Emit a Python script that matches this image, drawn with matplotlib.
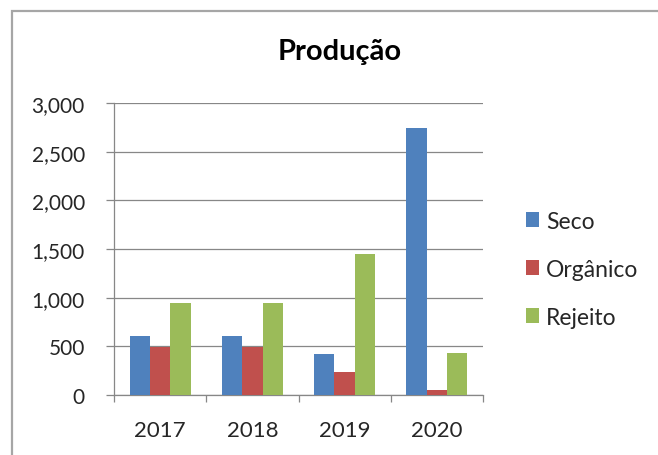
import numpy as np
import matplotlib
matplotlib.use('Agg')
import matplotlib.pyplot as plt
from matplotlib.patches import Rectangle
from matplotlib.ticker import FuncFormatter

plt.rcParams['font.family'] = ['Lato', 'DejaVu Sans']

years = ['2017', '2018', '2019', '2020']
seco = [605, 605, 420, 2740]
organico = [490, 490, 235, 50]
rejeito = [950, 950, 1445, 435]
series_names = ['Seco', 'Orgânico', 'Rejeito']
colors = ['#4F81BD', '#C0504D', '#9BBB59']

grid_col = '#878787'
text_col = '#262626'

fig = plt.figure(figsize=(6.58, 4.56), dpi=100)
fig.patch.set_facecolor('white')

# chart area border (runs off the right and bottom edges)
fig.patches.append(Rectangle((12 / 658, -0.1), 1.2, 1 - 12 / 456 + 0.1,
                             transform=fig.transFigure, fill=False,
                             edgecolor='#A6A6A6', linewidth=1.6))

ax = fig.add_axes([114 / 658, 1 - 396 / 456, (483 - 114) / 658, (396 - 104) / 456])

x = np.arange(len(years))
w = 0.22
for i, (vals, name) in enumerate(zip([seco, organico, rejeito], series_names)):
    ax.bar(x + (i - 1) * w, vals, width=w, color=colors[i], label=name, zorder=3)

ax.set_xlim(-0.5, len(years) - 0.5)
ax.set_ylim(0, 3000)
ax.set_yticks(np.arange(0, 3001, 500))
ax.yaxis.set_major_formatter(FuncFormatter(lambda v, p: f'{v:,.0f}'))
ax.yaxis.grid(True, color=grid_col, linewidth=0.9, zorder=0)

ax.set_xticks(np.arange(-0.5, len(years), 1.0))
ax.set_xticklabels([])
ax.set_xticks(x, minor=True)
ax.set_xticklabels(years, minor=True)
ax.tick_params(axis='x', which='major', direction='out', length=5, width=0.9, color=grid_col)
ax.tick_params(axis='x', which='minor', length=0, pad=18, labelsize=16, labelcolor=text_col)
ax.tick_params(axis='y', direction='out', length=6, width=0.9, color=grid_col,
               pad=15, labelsize=15, labelcolor=text_col)

for s in ['top', 'right']:
    ax.spines[s].set_visible(False)
for s in ['left', 'bottom']:
    ax.spines[s].set_color(grid_col)
    ax.spines[s].set_linewidth(0.9)

fig.text(340 / 658, 1 - 52 / 456, 'Produção', ha='center', va='center',
         fontsize=21, fontweight='bold', color='black')

fig.legend(loc='upper left', bbox_to_anchor=(505 / 658, 1 - 191 / 456),
           frameon=False, fontsize=16.5, handlelength=0.6, handleheight=0.6,
           handletextpad=0.3, labelspacing=1.18, labelcolor=text_col)

fig.savefig('out.png', dpi=100)
